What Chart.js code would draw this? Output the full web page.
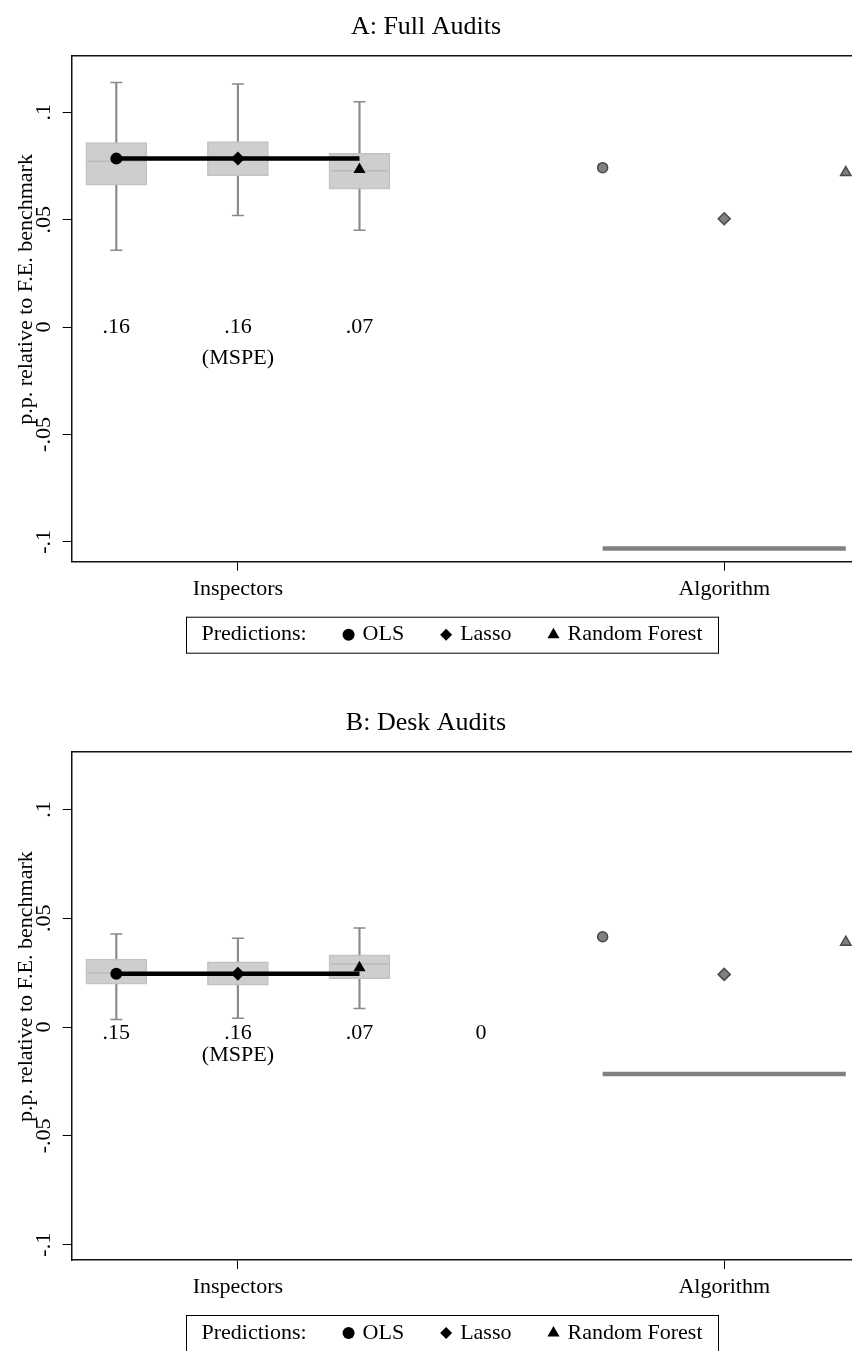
<!DOCTYPE html>
<html>
<head>
<meta charset="utf-8">
<script src="https://cdn.jsdelivr.net/npm/chart.js@4.4.1/dist/chart.umd.min.js"></script>
<style>
  html, body { margin: 0; padding: 0; background: #fff; overflow: hidden; }
  body { width: 852px; height: 1351px; position: relative; }
  .panel { position: absolute; left: 0; width: 852px; }
  #panelA { top: 0; height: 676px; }
  #panelB { top: 696px; height: 655px; }
</style>
</head>
<body>
<div class="panel" id="panelA"><canvas id="fullChart"></canvas></div>
<div class="panel" id="panelB"><canvas id="deskChart"></canvas></div>
<script>
// x positions: three inspector boxes, then the three algorithm predictions
const boxX = [1, 2, 3];
const algoX = [5, 6, 7];
const xTickValues = [2, 6];
const xTickLabels = ['Inspectors', 'Algorithm'];
const yTickValues = [-0.1, -0.05, 0, 0.05, 0.1];
const yTickLabels = ['-.1', '-.05', '0', '.05', '.1'];
const predictionNames = ['OLS', 'Lasso', 'Random Forest'];
const predictionStyles = ['circle', 'rectRot', 'triangle'];

// A: Full Audits
const fullLow = [0.0358, 0.0519, 0.0451];
const fullQ1 = [0.0660, 0.0705, 0.0642];
const fullMedian = [0.0772, 0.0790, 0.0727];
const fullQ3 = [0.0859, 0.0863, 0.0809];
const fullHigh = [0.1138, 0.1131, 0.1049];
const fullInspectors = [0.0784, 0.0784, 0.0733];
const fullAlgorithm = [0.0742, 0.0504, 0.0719];
const fullBenchmark = -0.1031;
const fullMspeX = [1, 2, 3];
const fullMspe = ['.16', '.16', '.07'];

// B: Desk Audits
const deskLow = [0.0035, 0.0040, 0.0085];
const deskQ1 = [0.0197, 0.0192, 0.0222];
const deskMedian = [0.0248, 0.0245, 0.0290];
const deskQ3 = [0.0312, 0.0300, 0.0332];
const deskHigh = [0.0428, 0.0408, 0.0455];
const deskInspectors = [0.0245, 0.0245, 0.0272];
const deskAlgorithm = [0.0415, 0.0242, 0.0390];
const deskBenchmark = -0.0215;
const deskMspeX = [1, 2, 3, 4];
const deskMspe = ['.15', '.16', '.07', '0'];

const serif = 'Liberation Serif';
const fontPx = 22;

const pts = (xs, ys) => xs.map((x, i) => ({x: x, y: ys[i]}));
const noPadding = s => { s.paddingTop = 0; s.paddingBottom = 0; s.paddingLeft = 0; s.paddingRight = 0; };

// key box under each panel
const predictionKey = {
  id: 'predictionKey',
  afterDraw(chart) {
    const ctx = chart.ctx;
    const top = chart.chartArea.bottom + 55;
    const h = 36, left = 186, right = 718, gap = 36;
    const cy = top + h / 2;
    ctx.save();
    ctx.strokeStyle = '#000';
    ctx.lineWidth = 1;
    ctx.strokeRect(left + 0.5, top + 0.5, right - left, h);
    ctx.font = fontPx + 'px "' + serif + '"';
    ctx.fillStyle = '#000';
    ctx.textBaseline = 'middle';
    // lay the items out in a row, centred in the box
    const head = ctx.measureText('Predictions:').width;
    const widths = predictionNames.map(n => ctx.measureText(n).width);
    const total = head + widths.reduce((a, b) => a + b, 0) + 3 * (gap + 12 + 8);
    let x = left + (right - left - total) / 2;
    ctx.fillText('Predictions:', x, cy);
    x += head;
    predictionStyles.forEach((s, i) => {
      x += gap;
      Chart.helpers.drawPoint(ctx, {pointStyle: s, radius: i === 2 ? 7 : 6, borderWidth: 0, rotation: 0}, x + 6, cy);
      x += 12 + 8;
      ctx.fillText(predictionNames[i], x, cy);
      x += widths[i];
    });
    ctx.restore();
  }
};

// MSPE numbers written along the zero line
const mspeText = {
  id: 'mspeText',
  afterDatasetsDraw(chart, args, opts) {
    const ctx = chart.ctx;
    const xs = chart.scales.x, ys = chart.scales.y;
    ctx.save();
    ctx.font = fontPx + 'px "' + serif + '"';
    ctx.fillStyle = '#000';
    ctx.textAlign = 'center';
    ctx.textBaseline = 'middle';
    const y0 = ys.getPixelForValue(0) + opts.dy;
    opts.xs.forEach((x, i) => ctx.fillText(opts.labels[i], xs.getPixelForValue(x), y0));
    ctx.fillText('(MSPE)', xs.getPixelForValue(2), y0 + opts.gap);
    ctx.restore();
  }
};

function panelChart(id, title, d) {
  const whiskers = boxX.map((x, i) => ({x: x, y: [d.low[i], d.high[i]]}));
  const boxes = boxX.map((x, i) => ({x: x, y: [d.q1[i], d.q3[i]]}));
  return new Chart(document.getElementById(id), {
    data: {
      datasets: [
        {type: 'bar', data: whiskers, barThickness: 1.5, grouped: false,
         backgroundColor: '#8a8a8a', order: 10},
        {type: 'scatter', data: pts(boxX, d.low).concat(pts(boxX, d.high)), pointStyle: 'line',
         pointRadius: 6, borderColor: '#8a8a8a', pointBorderColor: '#8a8a8a', pointBorderWidth: 1.5, order: 9},
        {type: 'bar', data: boxes, barThickness: 61, grouped: false, backgroundColor: '#cecece',
         borderColor: '#c2c2c2', borderWidth: 1.5, borderSkipped: false, order: 8},
        {type: 'scatter', data: pts(boxX, d.med), pointStyle: 'line', pointRadius: 29,
         borderColor: '#bababa', pointBorderColor: '#bababa', pointBorderWidth: 1.5, order: 7},
        {type: 'line', data: [{x: boxX[0], y: d.insp[0]}, {x: boxX[2], y: d.insp[0]}],
         borderColor: '#000', borderWidth: 4.5, pointRadius: 0, order: 3},
        {type: 'scatter', data: pts(boxX, d.insp), pointStyle: predictionStyles, pointRadius: [6, 7, 7],
         backgroundColor: '#000', borderColor: '#000', pointBorderWidth: 0, order: 1},
        {type: 'line', data: [{x: algoX[0], y: d.bench}, {x: algoX[2], y: d.bench}],
         borderColor: '#808080', borderWidth: 4.5, pointRadius: 0, order: 2},
        {type: 'scatter', data: pts(algoX, d.algo), pointStyle: predictionStyles, pointRadius: [5, 6, 6],
         backgroundColor: '#808080', borderColor: '#4a4a4a', pointBorderWidth: 1.5, order: 1}
      ]
    },
    options: {
      responsive: true,
      maintainAspectRatio: false,
      animation: false,
      events: [],
      layout: {autoPadding: false, padding: {left: 0, right: 0, top: 0, bottom: d.bottomPad}},
      plugins: {
        legend: {display: false},
        tooltip: {enabled: false},
        title: {display: true, text: title, color: '#000',
                font: {family: serif, size: 26, weight: 'normal'}, padding: {top: 12, bottom: 12.5}},
        mspeText: {xs: d.mspeX, labels: d.mspe, dy: d.mspeDy, gap: d.mspeGap}
      },
      scales: {
        x: {
          type: 'linear', position: 'bottom', min: 0.633, max: 7.051, offset: false,
          afterBuildTicks: s => { s.ticks = xTickValues.map(v => ({value: v})); },
          afterFit: s => { s.height = 46; noPadding(s); },
          ticks: {callback: (v, i) => xTickLabels[i], color: '#000', padding: 5,
                  maxRotation: 0, autoSkip: false, font: {family: serif, size: fontPx}},
          grid: {drawOnChartArea: false, offset: false, tickLength: 9, color: '#000', lineWidth: 1},
          border: {color: '#111', width: 1.5}
        },
        xTop: {
          type: 'linear', position: 'top', min: 0.633, max: 7.051, offset: false,
          afterFit: s => { s.height = 0; noPadding(s); },
          ticks: {display: false}, grid: {display: false, drawTicks: false, offset: false},
          border: {color: '#111', width: 1.5}
        },
        y: {
          type: 'linear', min: d.yMin, max: d.yMax,
          afterBuildTicks: s => { s.ticks = yTickValues.map(v => ({value: v})); },
          afterFit: s => { s.width = 71.7; noPadding(s); },
          ticks: {callback: (v, i) => yTickLabels[i], color: '#000', padding: 1.5,
                  minRotation: 90, maxRotation: 90, crossAlign: 'center', autoSkip: false,
                  font: {family: serif, size: fontPx}},
          grid: {drawOnChartArea: false, tickLength: 9, color: '#000', lineWidth: 1},
          border: {color: '#111', width: 1.5},
          // leading spaces lift the title a little above the middle of the axis
          title: {display: true, text: '       p.p. relative to F.E. benchmark', color: '#000',
                  font: {family: serif, size: fontPx}, padding: {top: 12.8, bottom: 0}}
        }
      }
    },
    plugins: [predictionKey, mspeText]
  });
}

panelChart('fullChart', 'A: Full Audits', {
  low: fullLow, q1: fullQ1, med: fullMedian, q3: fullQ3, high: fullHigh,
  insp: fullInspectors, algo: fullAlgorithm, bench: fullBenchmark,
  mspeX: fullMspeX, mspe: fullMspe, mspeDy: 0, mspeGap: 31,
  yMin: -0.1092, yMax: 0.1263, bottomPad: 68.3
});
panelChart('deskChart', 'B: Desk Audits', {
  low: deskLow, q1: deskQ1, med: deskMedian, q3: deskQ3, high: deskHigh,
  insp: deskInspectors, algo: deskAlgorithm, bench: deskBenchmark,
  mspeX: deskMspeX, mspe: deskMspe, mspeDy: 6, mspeGap: 22,
  yMin: -0.1070, yMax: 0.1265, bottomPad: 45
});
</script>
</body>
</html>
